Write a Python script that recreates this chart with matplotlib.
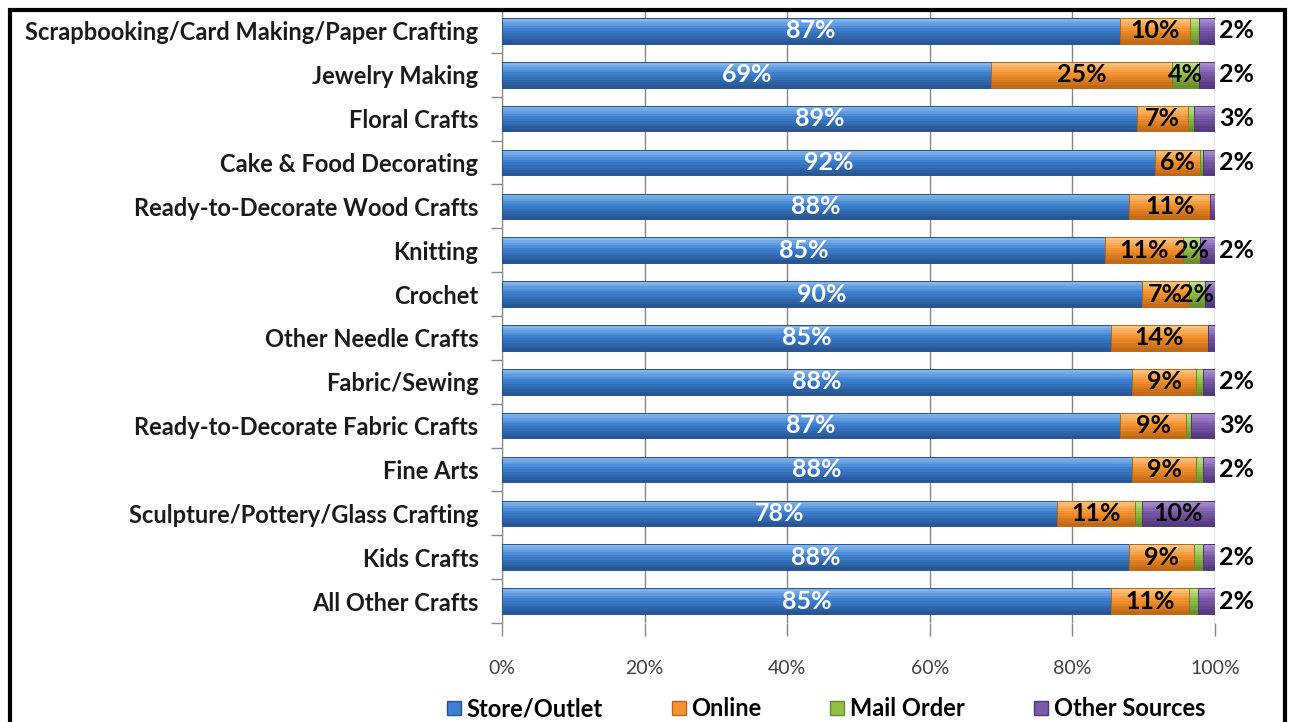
import numpy as np
import matplotlib.pyplot as plt
from matplotlib.colors import to_rgb
from matplotlib.patches import Rectangle, Patch

plt.rcParams['font.family'] = ['Lato', 'DejaVu Sans']

categories = ['Scrapbooking/Card Making/Paper Crafting', 'Jewelry Making', 'Floral Crafts',
              'Cake & Food Decorating', 'Ready-to-Decorate Wood Crafts', 'Knitting', 'Crochet',
              'Other Needle Crafts', 'Fabric/Sewing', 'Ready-to-Decorate Fabric Crafts',
              'Fine Arts', 'Sculpture/Pottery/Glass Crafting', 'Kids Crafts', 'All Other Crafts']
store = [86.7, 68.6, 89.0, 91.6, 88.0, 84.6, 89.7, 85.4, 88.4, 86.7, 88.4, 77.8, 87.9, 85.4]
online = [9.8, 25.4, 7.2, 6.3, 11.3, 10.9, 6.6, 13.6, 9.0, 9.3, 9.0, 11.0, 9.2, 11.0]
mail = [1.3, 3.8, 0.9, 0.4, 0.0, 2.4, 2.3, 0.0, 0.9, 0.6, 0.9, 0.9, 1.2, 1.2]
other = [2.2, 2.2, 2.9, 1.7, 0.7, 2.1, 1.4, 1.0, 1.7, 3.4, 1.7, 10.3, 1.7, 2.4]
series_names = ['Store/Outlet', 'Online', 'Mail Order', 'Other Sources']
xticks = [0, 20, 40, 60, 80, 100]

# base, highlight, shadow
colors = [('#3D80D0', '#8DBDF0', '#24528F'),
          ('#F59331', '#FBCB8C', '#BD6512'),
          ('#92C046', '#C6E497', '#678B28'),
          ('#7B5BA8', '#AE93D6', '#50367A')]


def mix(a, b, t):
    a, b = np.array(to_rgb(a)), np.array(to_rgb(b))
    return tuple(a + (b - a) * t)


fig = plt.figure(figsize=(12.89, 7.22), dpi=100)
ax = fig.add_axes([502 / 1289, 99 / 722, 713 / 1289, 614 / 722])

y = np.arange(len(categories))
h = 0.58
nb = 10
left = np.zeros(len(categories))
series = [store, online, mail, other]
for vals, (c, hi, sh) in zip(series, colors):
    vals = np.array(vals)
    # gradient bands, top (light) to bottom (dark)
    for k in range(nb):
        t = (k + 0.5) / nb
        col = mix(hi, c, t / 0.45) if t < 0.45 else mix(c, sh, (t - 0.45) / 0.55)
        yc = y - h / 2 + t * h
        ax.barh(yc, vals, left=left, height=h / nb + 0.002, color=col, linewidth=0, zorder=3)
    ax.barh(y, vals, left=left, height=h, facecolor='none', edgecolor=sh, linewidth=0.7, zorder=4)
    left += vals

lab = dict(fontsize=18, fontweight='bold', va='center', zorder=6)
for i in range(len(categories)):
    ax.text(store[i] / 2, i, '%d%%' % round(store[i]), ha='center', color='white', **lab)
    ax.text(store[i] + online[i] / 2, i, '%d%%' % round(online[i]), ha='center', color='black', **lab)
    if mail[i] >= 1.5:
        ax.text(store[i] + online[i] + mail[i] / 2, i, '%d%%' % round(mail[i]), ha='center', color='black', **lab)
    if other[i] >= 5:
        ax.text(100 - other[i] / 2, i, '%d%%' % round(other[i]), ha='center', color='black', **lab)
    elif other[i] >= 1.5:
        ax.text(100.6, i, '%d%%' % round(other[i]), ha='left', color='black', **lab)

ax.set_xlim(0, 100)
ax.set_ylim(len(categories) - 0.5, -0.5)
ax.set_xticks(xticks)
ax.set_xticklabels(['%d%%' % v for v in xticks], fontsize=14, color='#404040')
ax.set_yticks(y)
ax.set_yticklabels(categories, fontsize=17, fontweight='bold', color='#1a1a1a')
ax.set_yticks(np.arange(len(categories) + 1) - 0.5, minor=True)
ax.tick_params(axis='y', which='major', length=0, pad=17)
ax.tick_params(axis='y', which='minor', length=8, color='#868686', width=1)
ax.tick_params(axis='x', length=9, color='#868686', width=1, pad=18)
ax.grid(axis='x', color='#868686', linewidth=1, zorder=0)
for s in ['top', 'right', 'bottom']:
    ax.spines[s].set_visible(False)
ax.spines['left'].set_color('#868686')

handles = [Patch(facecolor=c, edgecolor=sh) for c, hi, sh in colors]
fig.legend(handles=handles, labels=series_names, loc='center', ncol=4,
           bbox_to_anchor=(826 / 1289, 13 / 722), frameon=False, borderpad=0, borderaxespad=0,
           handlelength=0.6, handleheight=0.5, handletextpad=0.25, columnspacing=2.9,
           prop={'size': 17, 'weight': 'bold'})

fig.patches.append(Rectangle((10 / 1289, -0.02), 1275 / 1289, 1.0066, transform=fig.transFigure,
                             fill=False, edgecolor='black', linewidth=3))

fig.savefig('out.png', dpi=100)
